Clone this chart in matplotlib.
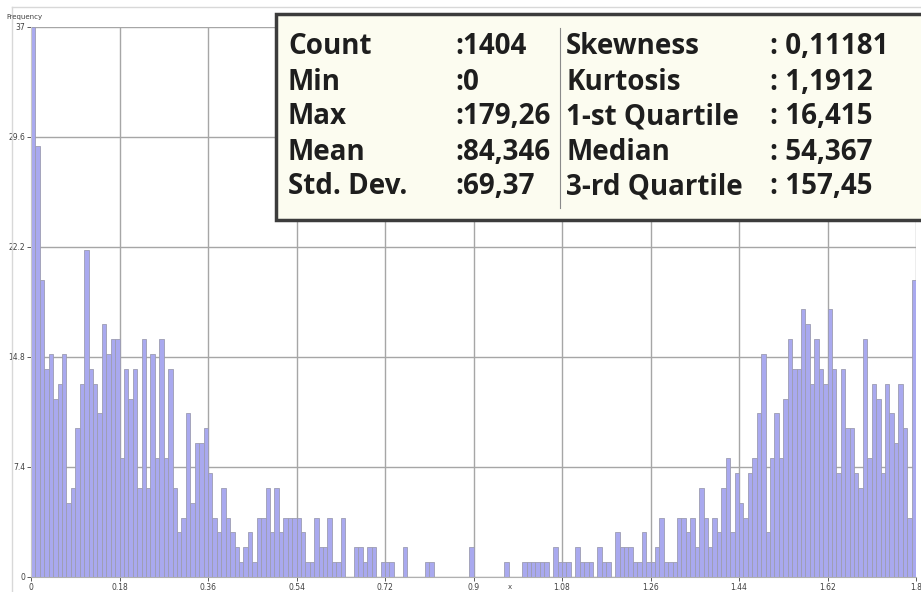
import numpy as np
import matplotlib.pyplot as plt
from matplotlib.patches import Rectangle
from matplotlib.lines import Line2D

# frequencies of 200 equal bins over [0, 1.8]
counts = [
    37, 29, 20, 14, 15, 12, 13, 15, 5, 6,
    10, 13, 22, 14, 13, 11, 17, 15, 16, 16,
    8, 14, 12, 14, 6, 16, 6, 15, 8, 16,
    8, 14, 6, 3, 4, 11, 5, 9, 9, 10,
    7, 4, 3, 6, 4, 3, 2, 1, 2, 3,
    1, 4, 4, 6, 3, 6, 3, 4, 4, 4,
    4, 3, 1, 1, 4, 2, 2, 4, 1, 1,
    4, 0, 0, 2, 2, 1, 2, 2, 0, 1,
    1, 1, 0, 0, 2, 0, 0, 0, 0, 1,
    1, 0, 0, 0, 0, 0, 0, 0, 0, 2,
    0, 0, 0, 0, 0, 0, 0, 1, 0, 0,
    0, 1, 1, 1, 1, 1, 1, 0, 2, 1,
    1, 1, 0, 2, 1, 1, 1, 0, 2, 1,
    1, 0, 3, 2, 2, 2, 1, 1, 3, 1,
    1, 2, 4, 1, 1, 1, 4, 4, 3, 4,
    2, 6, 4, 2, 4, 3, 6, 8, 3, 7,
    5, 4, 7, 8, 11, 15, 3, 8, 11, 8,
    12, 16, 14, 14, 18, 17, 13, 16, 14, 13,
    18, 14, 7, 14, 10, 10, 7, 6, 16, 8,
    13, 12, 7, 13, 11, 9, 13, 10, 4, 20,
]
bin_width = 0.009

x_ticks = [0, 0.18, 0.36, 0.54, 0.72, 0.9, 1.08, 1.26, 1.44, 1.62, 1.8]
x_tick_labels = ['0', '0.18', '0.36', '0.54', '0.72', '0.9', '1.08', '1.26', '1.44', '1.62', '1.8']
y_ticks = [0, 7.4, 14.8, 22.2, 29.6, 37]
y_tick_labels = ['0', '7.4', '14.8', '22.2', '29.6', '37']

stat_names_left = ['Count', 'Min', 'Max', 'Mean', 'Std. Dev.']
stat_values_left = ['1404', '0', '179,26', '84,346', '69,37']
stat_names_right = ['Skewness', 'Kurtosis', '1-st Quartile', 'Median', '3-rd Quartile']
stat_values_right = ['0,11181', '1,1912', '16,415', '54,367', '157,45']

W, H = 921, 592


def fx(px):
    return px / W


def fy(py):
    # pixel rows counted from the top
    return 1 - py / H


fig = plt.figure(figsize=(W / 100, H / 100), dpi=100)
fig.patch.set_facecolor('white')

# faint outer panel frame
fig.add_artist(Line2D([fx(12), fx(12)], [fy(7), 0], color='#d8d8d8', lw=1))
fig.add_artist(Line2D([fx(12), 1], [fy(7), fy(7)], color='#d8d8d8', lw=1))

ax = fig.add_axes([fx(31), fy(577), fx(916) - fx(31), fy(27) - fy(577)])
edges = np.arange(len(counts)) * bin_width
ax.bar(edges, counts, width=bin_width, align='edge',
       color='#a9a9ef', edgecolor='#9d9db2', linewidth=0.6)

ax.set_xlim(0, 1.8)
ax.set_ylim(0, 37)
ax.set_xticks(x_ticks)
ax.set_xticklabels(x_tick_labels)
ax.set_yticks(y_ticks)
ax.set_yticklabels(y_tick_labels)
ax.grid(True, color='#a6a6a6', lw=1)
ax.set_axisbelow(True)
for side in ['top', 'right']:
    ax.spines[side].set_visible(False)
ax.spines['left'].set_color('#c8c8c8')
ax.spines['bottom'].set_color('#b0b0b0')
ax.tick_params(labelsize=5.5, length=3, width=0.6, colors='#404040', pad=1)
fig.text(fx(508), fy(587), 'x', fontsize=5, color='#404040', va='center')
fig.text(fx(6), fy(17), 'Frequency', fontsize=5, color='#404040', va='center')

# statistics panel
fig.add_artist(Rectangle((fx(276), fy(220)), fx(660), fy(14) - fy(220),
                         transform=fig.transFigure, facecolor='#fcfcf0',
                         edgecolor='#3c3c3c', lw=2.5, zorder=5))
fig.add_artist(Line2D([fx(560), fx(560)], [fy(28), fy(208)], color='#8a8a8a',
                      lw=0.8, zorder=6))

font = dict(fontsize=20, fontweight='bold', family='Open Sans', color='#1e1e1e',
            va='center', zorder=7)
row_y = [47, 82, 117, 152, 187]
for i in range(5):
    y = fy(row_y[i])
    fig.text(fx(288), y, stat_names_left[i], **font)
    fig.text(fx(455), y, ':' + stat_values_left[i], **font)
    fig.text(fx(566), y, stat_names_right[i], **font)
    fig.text(fx(770), y, ': ' + stat_values_right[i], **font)

fig.savefig('out.png', dpi=100)
